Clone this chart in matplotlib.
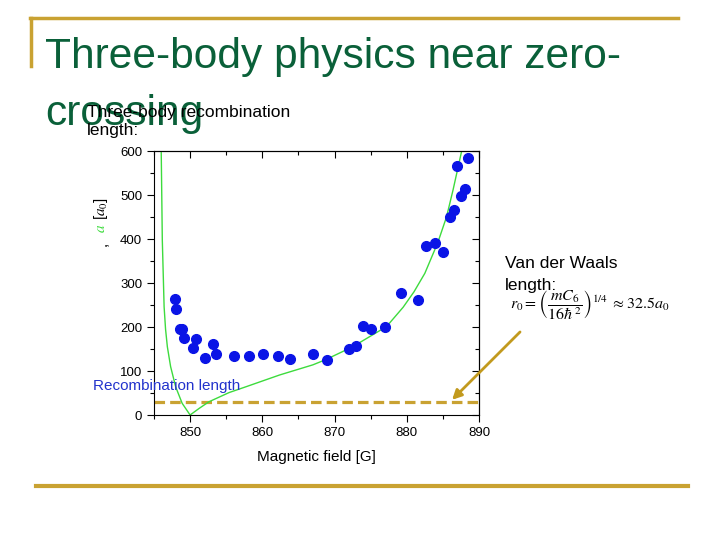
import matplotlib.pyplot as plt
from matplotlib.lines import Line2D
from matplotlib.ticker import MultipleLocator

plt.rcParams['font.family'] = ['Liberation Sans', 'DejaVu Sans']
plt.rcParams['mathtext.fontset'] = 'stix'

# measured recombination length (blue dots)
field = [847.9, 848.1, 848.6, 848.9, 849.2, 850.4, 850.8, 852.1, 853.1, 853.6,
         856.1, 858.1, 860.1, 862.1, 863.9, 867.0, 869.0, 872.0, 873.0, 874.0,
         875.0, 877.0, 879.2, 881.5, 882.7, 883.9, 885.0, 886.0, 886.5, 887.5,
         888.0, 886.9, 888.5]
r3 = [264, 242, 195, 196, 176, 152, 172, 129, 161, 139,
      133, 133, 138, 133, 128, 139, 126, 151, 156, 203,
      196, 199, 278, 261, 383, 392, 370, 449, 466, 498,
      513, 566, 583]

# |a| curve (green)
curve_b = [846.0, 846.15, 846.4, 846.6, 846.85, 847.3, 848.0, 848.9, 850.0,
           851.25, 852.6, 855.4, 857.7, 862.4, 867.0, 868.8, 872.5,
           877.2, 879.5, 881.0, 882.5, 884.3, 885.5, 886.4, 887.6]
curve_a = [600, 398, 246, 195, 155, 110, 64, 26.5, 0,
           15, 30, 51, 64, 91, 114, 126, 155,
           201, 245, 280, 322, 392, 450, 511, 600]

r0 = 30  # van der Waals length line

gold = '#C9A232'
title_green = '#0A6039'

fig = plt.figure(figsize=(7.2, 5.4), dpi=100)

def fx(px):
    return px / 720.0

def fy(py):
    return 1 - py / 540.0

# slide decoration lines
fig.add_artist(Line2D([fx(30), fx(678)], [fy(18), fy(18)], color=gold, lw=2.5))
fig.add_artist(Line2D([fx(31), fx(31)], [fy(18), fy(66)], color=gold, lw=2.5))
fig.add_artist(Line2D([fx(36), fx(688)], [fy(486), fy(486)], color=gold, lw=3))

# title
fig.text(fx(45), fy(68), 'Three-body physics near zero-', fontsize=30.6,
         color=title_green, va='baseline', ha='left')
fig.text(fx(45), fy(125), 'crossing', fontsize=30.6,
         color=title_green, va='baseline', ha='left')
fig.text(fx(87), fy(117), 'Three-body recombination', fontsize=12.5,
         color='black', va='baseline', ha='left')
fig.text(fx(87), fy(135), 'length:', fontsize=12.5,
         color='black', va='baseline', ha='left')

fig.text(fx(505), fy(268), 'Van der Waals', fontsize=12.5,
         color='black', va='baseline', ha='left')
fig.text(fx(505), fy(290), 'length:', fontsize=12.5,
         color='black', va='baseline', ha='left')
fig.text(fx(510), fy(305),
         r'$r_0=\left(\dfrac{mC_6}{16\hbar^{\,2}}\right)^{1/4}\;\approx 32.5a_0$',
         fontsize=11.5, color='black', va='center', ha='left')

ax = fig.add_axes([fx(154), fy(415), fx(479) - fx(154), fy(151) - fy(415)])

ax.plot(curve_b, curve_a, color='#3DDB3D', lw=1.0, zorder=2)
ax.plot(field, r3, 'o', color='#0A14E6', markersize=7, zorder=3)
ax.axhline(r0, color=gold, lw=2.3, dashes=(3.3, 1.6), zorder=1)

ax.set_xlim(845, 890)
ax.set_ylim(0, 600)
ax.xaxis.set_major_locator(MultipleLocator(10))
ax.xaxis.set_minor_locator(MultipleLocator(5))
ax.yaxis.set_major_locator(MultipleLocator(100))
ax.yaxis.set_minor_locator(MultipleLocator(50))
ax.tick_params(which='both', direction='out', labelsize=9.5, width=0.8)
ax.tick_params(which='major', length=5)
ax.tick_params(which='minor', length=3)
for s in ax.spines.values():
    s.set_linewidth(0.8)

# inward ticks on top and right
top = ax.secondary_xaxis('top')
top.xaxis.set_major_locator(MultipleLocator(10))
top.xaxis.set_minor_locator(MultipleLocator(5))
top.tick_params(which='both', direction='in', labeltop=False, width=0.8)
top.tick_params(which='major', length=5)
top.tick_params(which='minor', length=3)
right = ax.secondary_yaxis('right')
right.yaxis.set_major_locator(MultipleLocator(100))
right.yaxis.set_minor_locator(MultipleLocator(50))
right.tick_params(which='both', direction='in', labelright=False, width=0.8)
right.tick_params(which='major', length=5)
right.tick_params(which='minor', length=3)

ax.set_xlabel('Magnetic field [G]', fontsize=11, labelpad=8)

# y label pieces (partly garbled in the original slide)
fig.text(fx(101), fy(208), r'[$a_0$]', rotation=90, fontsize=11,
         va='center', ha='center', color='black')
fig.text(fx(101), fy(228), r'$a$', rotation=90, fontsize=11,
         va='center', ha='center', color='#3DDB3D')
fig.text(fx(103), fy(244), ',', rotation=90, fontsize=11,
         va='center', ha='center', color='black')
fig.text(fx(93), fy(386), 'Recombination length', fontsize=11,
         va='center', ha='left', color='#2233CC')

# arrow pointing at the van der Waals line
ax.annotate('', xy=(886, r0), xycoords='data',
            xytext=(fx(522), fy(330)), textcoords='figure fraction',
            arrowprops=dict(arrowstyle='-|>', color='#C29A1E', lw=2,
                            mutation_scale=14))

fig.savefig('out.png', dpi=100)
